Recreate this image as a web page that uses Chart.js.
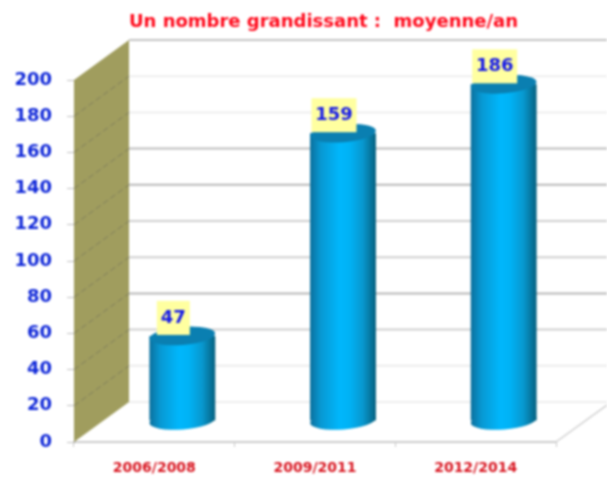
<!DOCTYPE html>
<html>
<head>
<meta charset="utf-8">
<style>
html,body{margin:0;padding:0;background:#fff;overflow:hidden}
canvas{display:block;filter:blur(0.8px)}
</style>
<script src="https://cdn.jsdelivr.net/npm/chart.js@4/dist/chart.umd.min.js"></script>
</head>
<body>
<canvas id="c" width="607" height="477"></canvas>
<script>
const titleText = "Un nombre grandissant :  moyenne/an";
const categories = ["2006/2008", "2009/2011", "2012/2014"];
const values = [47, 159, 186];
const yMax = 200;
const yStep = 20;

const backShades = {200:"#c4c4c4",180:"#efefef",160:"#eeeeee",140:"#bdbdbd",120:"#b8b8b8",100:"#cfcfcf",80:"#d0d0d0",60:"#b8b8b8",40:"#cfcfcf",20:"#ececec",0:"#eeeeee"};
const DX = 55, DY = -40, BARDX = 28, BARDY = -21;

function barGradient(ctx, cx, w){
  const g = ctx.createLinearGradient(cx - w/2, 0, cx + w/2, 0);
  g.addColorStop(0, "#0b6f9c");
  g.addColorStop(0.16, "#0898d2");
  g.addColorStop(0.45, "#00b7fc");
  g.addColorStop(0.6, "#00b2f5");
  g.addColorStop(0.8, "#0898cf");
  g.addColorStop(1, "#05607f");
  return g;
}
const BAR_PCT = 0.41;

const scene = {
  id: "scene",
  afterLayout(chart){
    chart.titleBlock.left = 40;
    chart.titleBlock.right = 607;
  },
  beforeDatasetsDraw(chart){
    const ctx = chart.ctx, a = chart.chartArea, y = chart.scales.y;
    ctx.save();
    y.ticks.forEach(t => {
      const py = y.getPixelForValue(t.value) + DY;
      ctx.strokeStyle = backShades[t.value] || "#ccc";
      ctx.lineWidth = 2;
      ctx.beginPath();
      ctx.moveTo(a.left + DX, py);
      ctx.lineTo(607, py);
      ctx.stroke();
    });
    const y0 = y.getPixelForValue(0), yT = y.getPixelForValue(yMax);
    ctx.fillStyle = "#a09d5e";
    ctx.beginPath();
    ctx.moveTo(a.left, yT);
    ctx.lineTo(a.left + DX, yT + DY);
    ctx.lineTo(a.left + DX, y0 + DY);
    ctx.lineTo(a.left, y0);
    ctx.closePath();
    ctx.fill();
    ctx.strokeStyle = "#7f7e5c";
    ctx.lineWidth = 1;
    ctx.setLineDash([6, 3]);
    y.ticks.forEach(t => {
      if (t.value === 0 || t.value === yMax) return;
      const py = y.getPixelForValue(t.value);
      ctx.beginPath();
      ctx.moveTo(a.left, py);
      ctx.lineTo(a.left + DX, py + DY);
      ctx.stroke();
    });
    ctx.setLineDash([]);
    ctx.strokeStyle = "#cfcfcf";
    ctx.lineWidth = 1.5;
    ctx.beginPath();
    ctx.moveTo(a.right, y0);
    ctx.lineTo(607, y0 - 37);
    ctx.stroke();
    ctx.restore();

    ctx.save();
    ctx.translate(BARDX, BARDY);
    chart.getDatasetMeta(0).data.forEach(el => {
      ctx.fillStyle = barGradient(ctx, el.x, el.width);
      ctx.beginPath();
      ctx.ellipse(el.x, el.base, el.width/2, 9, -0.08, 0, Math.PI*2);
      ctx.fill();
    });
  },
  afterDatasetsDraw(chart){
    const ctx = chart.ctx;
    chart.getDatasetMeta(0).data.forEach(el => {
      ctx.fillStyle = "#0a7fb1";
      ctx.beginPath();
      ctx.ellipse(el.x, el.y, el.width/2, 9, -0.08, 0, Math.PI*2);
      ctx.fill();
    });
    ctx.restore();
    chart.getDatasetMeta(0).data.forEach((el, i) => {
      const cx = el.x + BARDX - 9, top = el.y + BARDY;
      const txt = String(values[i]);
      const w = txt.length > 2 ? 45 : 33;
      ctx.fillStyle = "#ffffa0";
      ctx.fillRect(cx - w/2, top - 35, w, 34);
      ctx.fillStyle = "#1418e8";
      ctx.font = "bold 18px 'DejaVu Sans'";
      ctx.textAlign = "center";
      ctx.textBaseline = "middle";
      ctx.fillText(txt, cx, top - 18);
    });
  }
};

new Chart(document.getElementById("c"), {
  type: "bar",
  data: {
    labels: categories,
    datasets: [{
      data: values,
      clip: false,
      barPercentage: BAR_PCT,
      categoryPercentage: 1,
      borderWidth: 0,
      backgroundColor(c){
        const ch = c.chart;
        if (!ch.chartArea) return "#00b0f2";
        const xs = ch.scales.x;
        const band = ch.chartArea.width / categories.length;
        return barGradient(ch.ctx, xs.getPixelForValue(c.dataIndex), band * BAR_PCT);
      }
    }]
  },
  plugins: [scene],
  options: {
    responsive: false,
    animation: false,
    layout: { padding: { left: 0, right: 51, top: 0, bottom: 0 } },
    plugins: {
      legend: { display: false },
      tooltip: { enabled: false },
      title: {
        display: true,
        text: titleText,
        color: "#ff0a1c",
        font: { family: "'DejaVu Sans'", size: 18, weight: "bold", lineHeight: 1.2 },
        padding: { top: 12, bottom: 46.4 }
      }
    },
    scales: {
      x: {
        afterFit(s){ s.height = 35; },
        grid: { drawOnChartArea: false, color: "#c8c8c8", tickLength: 5 },
        border: { color: "#cccccc", width: 2 },
        ticks: { color: "#d8141f", padding: 13, font: { family: "'DejaVu Sans'", size: 14, weight: "bold" }, maxRotation: 0 }
      },
      y: {
        min: 0,
        max: yMax,
        afterFit(s){ s.width = 74; },
        grid: { drawOnChartArea: false, color: "#c0c0c0", tickLength: 7 },
        border: { color: "#9a9a9a", width: 1 },
        ticks: { stepSize: yStep, color: "#1028d8", padding: 15, font: { family: "'DejaVu Sans'", size: 18, weight: "bold" } }
      }
    }
  }
});
</script>
</body>
</html>
